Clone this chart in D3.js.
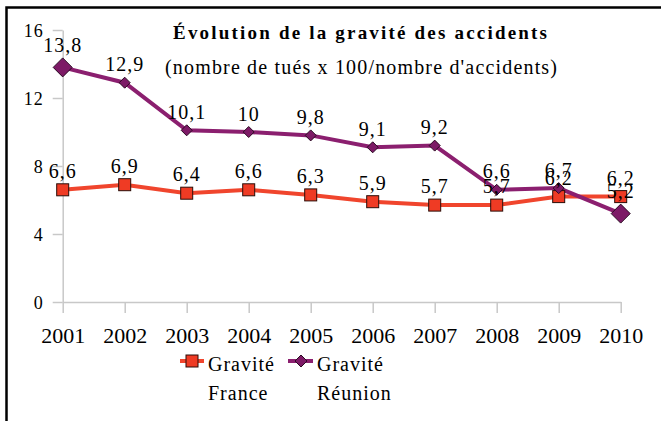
<!DOCTYPE html>
<html>
<head>
<meta charset="utf-8">
<script src="https://cdnjs.cloudflare.com/ajax/libs/d3/7.8.5/d3.min.js"></script>
<style>
  body { margin: 0; background: #fff; }
  svg, svg text { font-family: "Liberation Serif", "Times New Roman", Tinos, serif !important; }
  svg text { fill: #000; }
</style>
</head>
<body>
<div id="chart"></div>
<script>
var years = ["2001", "2002", "2003", "2004", "2005", "2006", "2007", "2008", "2009", "2010"];
var franceValues = [6.6, 6.9, 6.4, 6.6, 6.3, 5.9, 5.7, 5.7, 6.2, 6.2];
var reunionValues = [13.8, 12.9, 10.1, 10, 9.8, 9.1, 9.2, 6.6, 6.7, 5.2];
var yTicks = [0, 4, 8, 12, 16];
var seriesNames = ["Gravité France", "Gravité Réunion"];

var svgWidth = 661;
var svgHeight = 421;
var serif = "'Liberation Serif', 'Times New Roman', Tinos, serif";

var svg = d3.select("#chart")
  .append("svg")
  .attr("width", svgWidth)
  .attr("height", svgHeight)
  .attr("font-family", serif);

// frame (only top and left edges are visible)
svg.append("rect")
  .attr("x", 6.5)
  .attr("y", 7.5)
  .attr("width", 800)
  .attr("height", 600)
  .attr("fill", "none")
  .attr("stroke", "#000")
  .attr("stroke-width", 2.5);

var xScale = d3.scalePoint()
  .domain(years)
  .range([62.7, 620.7])
  .padding(0);

var yScale = d3.scaleLinear()
  .domain([0, 16])
  .range([302, 30]);

var axisColor = "#c8c8c8";

// y axis
var yAxis = svg.append("g")
  .attr("transform", "translate(62.7,0)")
  .call(d3.axisLeft(yScale).tickValues(yTicks).tickSize(10).tickSizeOuter(0).tickPadding(9));

// x axis
var xAxis = svg.append("g")
  .attr("transform", "translate(0,302)")
  .call(d3.axisBottom(xScale).tickSize(11).tickSizeOuter(0).tickPadding(14));

[yAxis, xAxis].forEach(function(ax) {
  ax.attr("font-family", serif);
  ax.select(".domain").attr("stroke", axisColor).attr("stroke-width", 1.5);
  ax.selectAll(".tick line").attr("stroke", axisColor).attr("stroke-width", 1.5);
  ax.selectAll("text").attr("fill", "#000");
});

yAxis.selectAll("text")
  .style("font-size", "18px")
  .style("letter-spacing", "1px")
  .attr("dy", "0.35em");

xAxis.selectAll("text")
  .style("font-size", "22px");

// lines
var line = d3.line()
  .x((d, i) => xScale(years[i]))
  .y(d => yScale(d));

svg.append("path")
  .datum(franceValues)
  .attr("d", line)
  .attr("fill", "none")
  .attr("stroke", "#f0452d")
  .attr("stroke-width", 4);

svg.append("path")
  .datum(reunionValues)
  .attr("d", line)
  .attr("fill", "none")
  .attr("stroke", "#8b1f6f")
  .attr("stroke-width", 4);

// marker sizes: first and last Réunion diamonds drawn larger
function diamondHalf(i) {
  return (i === 0 || i === years.length - 1) ? 9.5 : 5.5;
}

function diamondPath(cx, cy, h) {
  return `M${cx},${cy - h}L${cx + h},${cy}L${cx},${cy + h}L${cx - h},${cy}Z`;
}

// france squares
svg.append("g").selectAll("rect")
  .data(franceValues)
  .enter()
  .append("rect")
  .attr("x", (d, i) => xScale(years[i]) - 6)
  .attr("y", d => yScale(d) - 6)
  .attr("width", 12)
  .attr("height", 12)
  .attr("fill", "#ef3b24")
  .attr("stroke", "#2a0d08")
  .attr("stroke-width", 1);

// reunion diamonds
svg.append("g").selectAll("path")
  .data(reunionValues)
  .enter()
  .append("path")
  .attr("d", (d, i) => diamondPath(xScale(years[i]), yScale(d), diamondHalf(i)))
  .attr("fill", "#7d1a66")
  .attr("stroke", "#2a0a22")
  .attr("stroke-width", 1);

// value labels
var fmt = v => String(v).replace(".", ",");

svg.append("g").selectAll("text")
  .data(franceValues)
  .enter()
  .append("text")
  .attr("x", (d, i) => xScale(years[i]))
  .attr("y", d => yScale(d) - 12)
  .attr("text-anchor", "middle")
  .style("font-size", "20px")
  .style("letter-spacing", "1px")
  .text(d => fmt(d));

svg.append("g").selectAll("text")
  .data(reunionValues)
  .enter()
  .append("text")
  .attr("x", (d, i) => xScale(years[i]))
  .attr("y", (d, i) => yScale(d) - diamondHalf(i) - 6)
  .attr("text-anchor", "middle")
  .style("font-size", "20px")
  .style("letter-spacing", "1px")
  .text(d => fmt(d));

// titles
svg.append("text")
  .attr("x", 173)
  .attr("y", 39)
  .attr("textLength", 374)
  .attr("lengthAdjust", "spacing")
  .style("font-size", "19px")
  .style("font-weight", "bold")
  .text("Évolution de la gravité des accidents");

svg.append("text")
  .attr("x", 165)
  .attr("y", 74)
  .attr("textLength", 392)
  .attr("lengthAdjust", "spacing")
  .style("font-size", "20px")
  .text("(nombre de tués x 100/nombre d'accidents)");

// legend
var legend = svg.append("g");

legend.append("line")
  .attr("x1", 180).attr("x2", 204)
  .attr("y1", 361).attr("y2", 361)
  .attr("stroke", "#f0452d").attr("stroke-width", 4);
legend.append("rect")
  .attr("x", 186).attr("y", 355)
  .attr("width", 12).attr("height", 12)
  .attr("fill", "#ef3b24").attr("stroke", "#2a0d08").attr("stroke-width", 1);

legend.append("line")
  .attr("x1", 288).attr("x2", 313)
  .attr("y1", 361).attr("y2", 361)
  .attr("stroke", "#8b1f6f").attr("stroke-width", 4);
legend.append("path")
  .attr("d", diamondPath(301, 361, 6))
  .attr("fill", "#7d1a66").attr("stroke", "#2a0a22").attr("stroke-width", 1);

var legendX = [208, 317];
seriesNames.forEach(function(name, i) {
  var words = name.split(" ");
  var t = legend.append("text")
    .attr("x", legendX[i])
    .attr("y", 371)
    .style("font-size", "20px")
    .style("letter-spacing", "1px");
  t.append("tspan").attr("x", legendX[i]).text(words[0]);
  t.append("tspan").attr("x", legendX[i]).attr("dy", 29).text(words[1]);
});
</script>
</body>
</html>
